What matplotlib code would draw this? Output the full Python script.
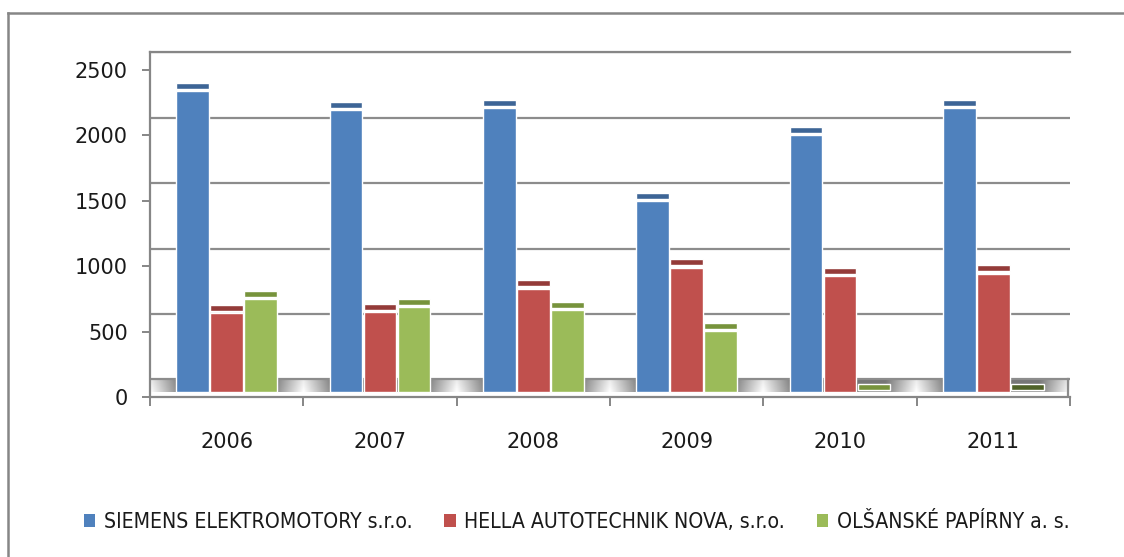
import matplotlib
matplotlib.use("Agg")
import matplotlib.pyplot as plt
import numpy as np
from matplotlib import font_manager
from matplotlib.lines import Line2D
from matplotlib.patches import Patch

# data
years = ["2006", "2007", "2008", "2009", "2010", "2011"]
series_names = ["SIEMENS ELEKTROMOTORY s.r.o.", "HELLA AUTOTECHNIK NOVA, s.r.o.",
                "OLŠANSKÉ PAPÍRNY a. s."]
siemens = [2300, 2155, 2170, 1460, 1965, 2170]
hella = [605, 610, 790, 952, 885, 905]
olsanske = [710, 650, 625, 465, 0, 0]

face_colors = ["#4F81BD", "#C0504D", "#9BBB59"]
cap_colors = ["#3D6596", "#943B39", "#77933C"]
zero_cap = {(2, 5): "#4F6228"}  # 2011 bar seen from the other side, darker

# pseudo-3D look of the Excel chart (in data units)
BASE = 38        # bars stand on the floor, above the front axis line
CAP_GAP = 18
CAP_H = 46
GRID_LIFT = 135  # gridlines sit on the back wall
BAR_W = 0.212
BAR_STEP = 0.222
GRID = "#8C8C8C"

fig = plt.figure(figsize=(11.24, 5.57), dpi=100)
ax = fig.add_axes([150 / 1124, 160 / 557, 920 / 1124, 345.3 / 557])
ax.set_xlim(-0.5, 5.5)
ax.set_ylim(0, 2640)

x = np.arange(len(years))

# floor band: gray, fading to white between the groups
xs = np.linspace(-0.5, 5.5, 1200)
d = np.abs(xs - np.round(xs))
shade = 0.5 + 0.5 * np.clip((d - 0.3) / 0.2, 0, 1)
band = np.tile(shade, (20, 1))
band = band * np.linspace(0.92, 1.0, 20)[:, None]
ax.imshow(band, cmap="gray", vmin=0, vmax=1, aspect="auto",
          extent=(-0.5, 5.5, BASE, GRID_LIFT), origin="upper", zorder=1)
ax.plot([5.49, 5.49], [BASE - 30, GRID_LIFT], color=GRID, lw=1.6, zorder=1.5)

for v in range(0, 2501, 500):
    ax.axhline(v + GRID_LIFT, color=GRID, lw=1.6, zorder=1.5)

for i, vals in enumerate([siemens, hella, olsanske]):
    xp = x + (i - 1) * BAR_STEP
    ax.bar(xp, vals, bottom=BASE, width=BAR_W, color=face_colors[i],
           edgecolor="white", linewidth=1.0, zorder=3)
    caps = [zero_cap.get((i, j), cap_colors[i]) for j in range(len(vals))]
    ax.bar(xp, CAP_H, bottom=np.array(vals) + BASE + CAP_GAP, width=BAR_W,
           color=caps, edgecolor="white", linewidth=1.0, zorder=3)

ax.spines["right"].set_visible(False)
for s in ["left", "bottom", "top"]:
    ax.spines[s].set_color("#868686")
    ax.spines[s].set_linewidth(1.6)

ax.set_yticks(range(0, 2501, 500))
ax.tick_params(axis="y", direction="out", length=6, width=1.4, color="#868686",
               pad=10, labelsize=15, labelcolor="#1a1a1a")
ax.set_xticks(np.arange(-0.5, 5.6, 1))
ax.set_xticklabels([])
ax.tick_params(axis="x", which="major", direction="out", length=6.5, width=1.4,
               color="#868686")
ax.set_xticks(x, minor=True)
ax.set_xticklabels(years, minor=True)
ax.tick_params(axis="x", which="minor", length=0, pad=25, labelsize=15,
               labelcolor="#1a1a1a")
ax.set_facecolor("white")

# outer chart frame (cut off on the right and bottom)
fig.add_artist(Line2D([8 / 1124, 8 / 1124], [0, 1 - 13 / 557], color="#868686",
                      lw=1.8, transform=fig.transFigure))
fig.add_artist(Line2D([8 / 1124, 1], [1 - 13 / 557, 1 - 13 / 557], color="#868686",
                      lw=1.8, transform=fig.transFigure))

names = {f.name for f in font_manager.fontManager.ttflist}
if "Liberation Sans Narrow" in names:
    leg_font = dict(family="Liberation Sans Narrow", size=17.8)
else:
    leg_font = dict(family="DejaVu Sans", stretch="condensed", size=15.2)

handles = [Patch(facecolor=c, edgecolor="none") for c in face_colors]
fig.legend(handles, series_names, loc="center", bbox_to_anchor=(0.513, 0.063),
           ncol=3, frameon=False, prop=leg_font, handlelength=0.55,
           handleheight=0.55, handletextpad=0.4, columnspacing=1.5,
           labelcolor="#1a1a1a")

fig.savefig("out.png", dpi=100)
